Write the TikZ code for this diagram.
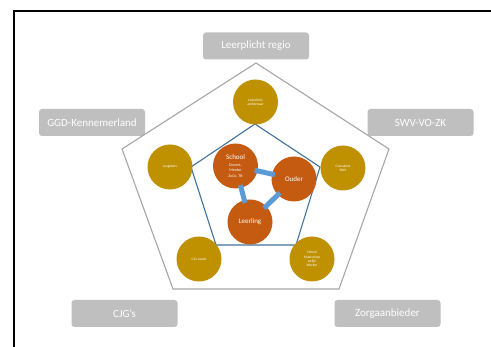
\documentclass[tikz,border=0pt]{standalone}
\usepackage{fontspec}
\setmainfont{Carlito}
\definecolor{boxgray}{HTML}{BFBFBF}
\definecolor{pentgray}{HTML}{A6A6A6}
\definecolor{pentblue}{HTML}{41719C}
\definecolor{gold}{HTML}{BF9000}
\definecolor{rust}{HTML}{C55A11}
\definecolor{link}{HTML}{5B9BD5}
\begin{document}
\begin{tikzpicture}[x=1pt,y=-1pt,
  outerbox/.style={draw=none,fill=boxgray,rounded corners=3pt,minimum width=106pt,minimum height=27pt,text=white,font=\fontsize{11}{12}\selectfont,inner sep=0pt},
  goldc/.style={circle,fill=gold,minimum size=45pt,inner sep=0pt,text=white,align=center,font=\fontsize{3.6}{4.2}\selectfont},
  rustc/.style={circle,fill=rust,minimum size=45pt,inner sep=0pt,text=white,align=center,font=\fontsize{7}{8}\selectfont},
  linkline/.style={draw=link,line width=5pt,shorten <=-3pt,shorten >=-3pt}]
\useasboundingbox (0,0) rectangle (491,347);
\fill[white] (0,0) rectangle (491,347);
\draw[black,line width=1.2pt] (491,11) -- (14,11) -- (14,347);
% boxes
\node[outerbox] (lr) at (256,46) {Leerplicht regio};
\node[outerbox] (ggd) at (92,122.5) {GGD-Kennemerland};
\node[outerbox] (swv) at (420.5,122.5) {SWV-VO-ZK};
\node[outerbox] (cjgs) at (124.5,313.5) {CJG’s};
\node[outerbox] (zorg) at (387.5,313.5) {Zorgaanbieder};
% outer pentagon
\coordinate (o1) at (256,63);
\coordinate (o2) at (389,149);
\coordinate (o3) at (339,289);
\coordinate (o4) at (173,289);
\coordinate (o5) at (122,149);
\draw[pentgray,line width=1.1pt] (o1) -- (o2) -- (o3) -- (o4) -- (o5) -- cycle;
% inner pentagon
\coordinate (i1) at (255,124);
\coordinate (i2) at (320,167);
\coordinate (i3) at (296,245);
\coordinate (i4) at (216,245);
\coordinate (i5) at (191,167);
\draw[pentblue,line width=1.1pt] (i1) -- (i2) -- (i3) -- (i4) -- (i5) -- cycle;
% gold circles
\node[goldc] (la) at (255.5,102) {Leerplicht\\ambtenaar};
\node[goldc] (ja) at (170,167) {Jeugdarts};
\node[goldc] (cs) at (343,168) {Consulent\\SWV};
\node[goldc] (cc) at (199,259) {CJG coach};
\node[goldc] (smw) at (312,259) {School\\Maatschap\\pelijk\\Werker};
% rust circles
\node[rustc] (school) at (235.5,166) {School\\[-1pt]{\fontsize{4}{4.6}\selectfont Docent,}\\[-2.5pt]{\fontsize{4}{4.6}\selectfont Mentor}\\[-2.5pt]{\fontsize{4}{4.6}\selectfont ZoCo, TB}};
\node[rustc] (ouder) at (294,179) {Ouder};
\node[rustc] (leerling) at (250,222) {Leerling};
% links
\draw[linkline] (school) -- (ouder);
\draw[linkline] (school) -- (leerling);
\draw[linkline] (leerling) -- (ouder);
\end{tikzpicture}
\end{document}
